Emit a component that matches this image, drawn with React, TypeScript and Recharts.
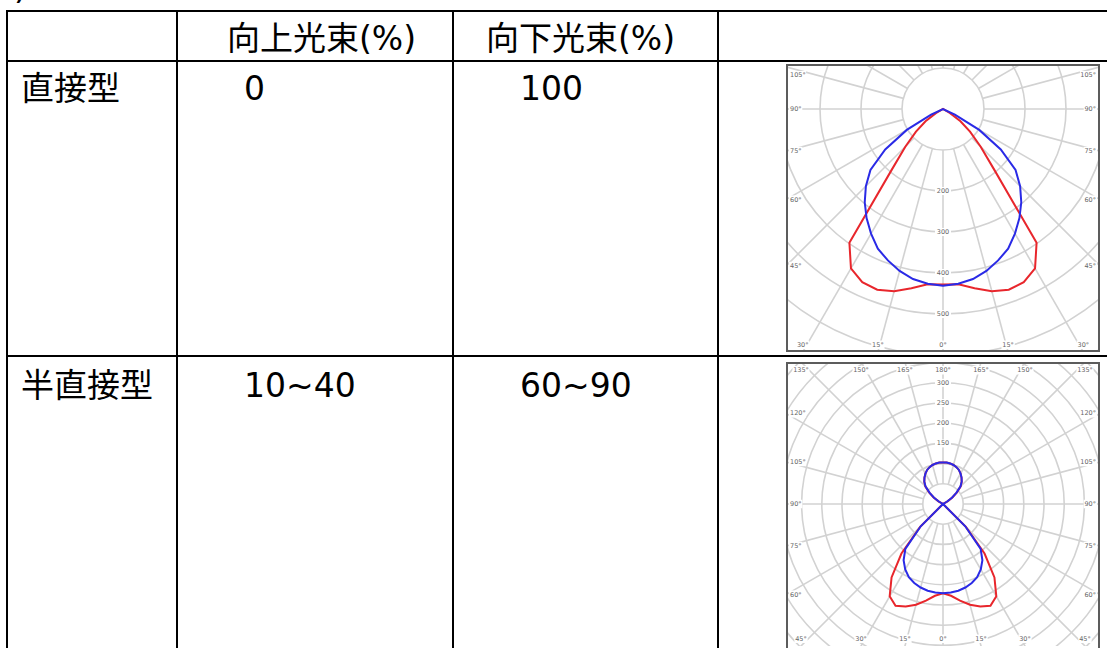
import React from 'react';
import { RadarChart, Radar, PolarGrid, PolarAngleAxis, PolarRadiusAxis } from 'recharts';

// ---------- table content ----------
const HEADER_UP = '向上光束(%)';
const HEADER_DOWN = '向下光束(%)';
const ROW_NAMES = ['直接型', '半直接型'];
const UP_FLUX = ['0', '10~40'];
const DOWN_FLUX = ['100', '60~90'];

// ---------- photometric data (gamma angle, degrees from nadir) ----------
const GAMMA = [0, 5, 10, 15, 20, 25, 30, 35, 40, 45, 50, 55, 60, 65, 70, 75, 80, 85, 90,
  95, 100, 105, 110, 115, 120, 125, 130, 135, 140, 145, 150, 155, 160, 165, 170, 175, 180];

// 直接型 (direct)
const DIRECT_BLUE = [431, 428, 421, 409, 393, 376, 351, 325, 297, 266, 231, 172, 102, 32, 0, 0, 0, 0, 0,
  0, 0, 0, 0, 0, 0, 0, 0, 0, 0, 0, 0, 0, 0, 0, 0, 0, 0];
const DIRECT_RED = [428, 429, 444, 460, 469, 466, 449, 398, 197, 130, 86, 52, 20, 0, 0, 0, 0, 0, 0,
  0, 0, 0, 0, 0, 0, 0, 0, 0, 0, 0, 0, 0, 0, 0, 0, 0, 0];

// 半直接型 (semi-direct)
const SEMI_BLUE = [221, 220, 218, 214, 208, 200, 187, 170, 145, 78, 0, 0, 0, 0, 0, 0, 0, 0, 0,
  0, 0, 0, 0, 0, 11, 27, 43, 61, 72, 80, 87, 93, 97, 100, 102, 103, 103];
const SEMI_RED = [221, 228, 243, 258, 270, 278, 264, 222, 160, 80, 0, 0, 0, 0, 0, 0, 0, 0, 0,
  0, 0, 0, 0, 0, 13, 29, 45, 62, 72, 80, 87, 93, 97, 100, 102, 103, 103];

const GRID_ANGLES = [0, 15, 30, 45, 60, 75, 90, 105, 120, 135, 150, 165, 180,
  195, 210, 225, 240, 255, 270, 285, 300, 315, 330, 345];

const DIRECT_RING_LABELS = [200, 300, 400, 500];
const SEMI_RING_LABELS = [150, 200, 250, 300];

const RED = '#e8262c';
const BLUE = '#2a2ae6';
const GRID = '#d2d2d2';
const FONT = "'DejaVu Sans', 'Noto Sans CJK JP', sans-serif";

// full loop: right half (0..180) then mirrored left half
function buildLoop(blue: number[], red: number[]) {
  const rows: { angle: number; blue: number; red: number }[] = [];
  for (let i = 0; i < GAMMA.length; i++) rows.push({ angle: GAMMA[i], blue: blue[i], red: red[i] });
  for (let i = GAMMA.length - 2; i >= 1; i--) rows.push({ angle: 360 - GAMMA[i], blue: blue[i], red: red[i] });
  return rows;
}

const DIRECT_DATA = buildLoop(DIRECT_BLUE, DIRECT_RED);
const SEMI_DATA = buildLoop(SEMI_BLUE, SEMI_RED);

const clamp = (v: number, a: number, b: number) => Math.max(a, Math.min(b, v));

function makeAngleTick(W: number, H: number, CX: number, CY: number, maxGamma: number) {
  return (props: any) => {
    const { x, y, payload } = props;
    const value = Number(payload?.value);
    const gamma = value <= 180 ? value : 360 - value;
    if (gamma > maxGamma) return <g />;
    let dx = x - CX;
    let dy = y - CY;
    const len = Math.hypot(dx, dy) || 1;
    dx /= len;
    dy /= len;
    const cands: [number, string][] = [];
    if (dx > 1e-6) cands.push([(W - CX) / dx, 'r']);
    if (dx < -1e-6) cands.push([-CX / dx, 'l']);
    if (dy > 1e-6) cands.push([(H - CY) / dy, 'b']);
    if (dy < -1e-6) cands.push([-CY / dy, 't']);
    cands.sort((a, b) => a[0] - b[0]);
    const [t, side] = cands[0];
    const px = CX + dx * t;
    const py = CY + dy * t;
    const label = `${gamma}°`;
    const fs = 6.5;
    const w = label.length * fs * 0.58 + 2;
    const inset = 4;
    let tx = 0;
    let ty = 0;
    let anchor: 'start' | 'end' | 'middle' = 'middle';
    let rx = 0;
    if (side === 'l') {
      tx = inset; ty = clamp(py, inset + fs / 2 + 4, H - inset - fs / 2); anchor = 'start'; rx = tx - 1;
    } else if (side === 'r') {
      tx = W - inset; ty = clamp(py, inset + fs / 2 + 4, H - inset - fs / 2); anchor = 'end'; rx = tx - w + 1;
    } else if (side === 'b') {
      tx = clamp(px, inset + w / 2, W - inset - w / 2); ty = H - inset - fs / 2; anchor = 'middle'; rx = tx - w / 2;
    } else {
      tx = clamp(px, inset + w / 2, W - inset - w / 2); ty = inset + fs / 2 + 1; anchor = 'middle'; rx = tx - w / 2;
    }
    return (
      <g>
        <rect x={rx} y={ty - fs / 2 - 1} width={w} height={fs + 2} fill="#fff" />
        <text x={tx} y={ty} textAnchor={anchor} dominantBaseline="central" fontSize={fs} fill="#666" fontFamily={FONT}>
          {label}
        </text>
      </g>
    );
  };
}

function makeRadiusTick(labels: number[]) {
  return (props: any) => {
    const { x, y, payload } = props;
    const v = Number(payload?.value);
    if (!labels.includes(v)) return <g />;
    return (
      <g>
        <rect x={x - 8} y={y - 4} width={16} height={8} fill="#fff" />
        <text x={x} y={y} textAnchor="middle" dominantBaseline="central" fontSize={6.5} fill="#666" fontFamily={FONT}>
          {v}
        </text>
      </g>
    );
  };
}

type PanelProps = {
  data: any[];
  left: number;
  top: number;
  width: number;
  height: number;
  borderHeight: number;
  cx: number;
  cy: number;
  pxPerUnit: number;
  innerUnits: number;
  outerUnits: number;
  tickCount: number;
  radiusAngle: number;
  radiusLabels: number[];
  maxGamma: number;
};

function PolarPanel(p: PanelProps) {
  return (
    <>
      <div style={{ position: 'absolute', left: p.left, top: p.top, width: p.width, height: p.height, overflow: 'hidden', background: '#fff' }}>
        <RadarChart
          width={p.width}
          height={p.height}
          data={p.data}
          cx={p.cx}
          cy={p.cy}
          innerRadius={p.innerUnits * p.pxPerUnit}
          outerRadius={p.outerUnits * p.pxPerUnit}
          startAngle={-90}
          endAngle={270}
          margin={{ top: 0, right: 0, bottom: 0, left: 0 }}
        >
          <PolarGrid gridType="circle" stroke={GRID} strokeWidth={1.6} />
          <PolarAngleAxis
            dataKey="angle"
            type="number"
            domain={[0, 360]}
            ticks={GRID_ANGLES}
            axisLine={false}
            tickLine={false}
            tick={makeAngleTick(p.width, p.height, p.cx, p.cy, p.maxGamma)}
          />
          <PolarRadiusAxis
            angle={p.radiusAngle}
            domain={[p.innerUnits, p.outerUnits]}
            allowDataOverflow
            tickCount={p.tickCount}
            axisLine={false}
            tickLine={false}
            tick={makeRadiusTick(p.radiusLabels)}
          />
          <Radar dataKey="red" stroke={RED} strokeWidth={2} fill="none" fillOpacity={0} dot={false} isAnimationActive={false} />
          <Radar dataKey="blue" stroke={BLUE} strokeWidth={2} fill="none" fillOpacity={0} dot={false} isAnimationActive={false} />
        </RadarChart>
      </div>
      <div
        style={{
          position: 'absolute', left: p.left, top: p.top, width: p.width, height: p.borderHeight,
          border: '2px solid #5c5c5c', boxSizing: 'border-box', pointerEvents: 'none',
        }}
      />
    </>
  );
}

export default function App() {
  const fs = 33;
  return (
    <div style={{ position: 'absolute', left: 0, top: 0, width: 1107, height: 648, overflow: 'hidden', background: '#fff' }}>
      <svg width={1107} height={648} style={{ position: 'absolute', left: 0, top: 0 }}>
        <text x={14} y={-1} fontSize={fs} fontFamily={FONT} fill="#000">)</text>
        {/* horizontal rules */}
        <line x1={6} x2={1107} y1={11} y2={11} stroke="#000" strokeWidth={2} />
        <line x1={6} x2={1107} y1={61} y2={61} stroke="#000" strokeWidth={2} />
        <line x1={6} x2={1107} y1={356} y2={356} stroke="#000" strokeWidth={2} />
        {/* vertical rules */}
        {[7, 177, 453, 718].map((x) => (
          <line key={x} x1={x} x2={x} y1={10} y2={648} stroke="#000" strokeWidth={2} />
        ))}
        <text x={227} y={50} fontSize={fs} fontFamily={FONT} fill="#000">{HEADER_UP}</text>
        <text x={486} y={50} fontSize={fs} fontFamily={FONT} fill="#000">{HEADER_DOWN}</text>
        {[100, 397].map((by, i) => (
          <g key={i}>
            <text x={21} y={by} fontSize={fs} fontFamily={FONT} fill="#000">{ROW_NAMES[i]}</text>
            <text x={244} y={by} fontSize={fs} fontFamily={FONT} fill="#000">{UP_FLUX[i]}</text>
            <text x={520} y={by} fontSize={fs} fontFamily={FONT} fill="#000">{DOWN_FLUX[i]}</text>
          </g>
        ))}
      </svg>
      <PolarPanel
        data={DIRECT_DATA}
        left={786}
        top={64}
        width={314}
        height={288}
        borderHeight={288}
        cx={157}
        cy={45}
        pxPerUnit={0.41}
        innerUnits={100}
        outerUnits={800}
        tickCount={8}
        radiusAngle={-90}
        radiusLabels={DIRECT_RING_LABELS}
        maxGamma={105}
      />
      <PolarPanel
        data={SEMI_DATA}
        left={786}
        top={362}
        width={314}
        height={284}
        borderHeight={292}
        cx={157}
        cy={142}
        pxPerUnit={0.404}
        innerUnits={50}
        outerUnits={550}
        tickCount={11}
        radiusAngle={90}
        radiusLabels={SEMI_RING_LABELS}
        maxGamma={180}
      />
    </div>
  );
}
